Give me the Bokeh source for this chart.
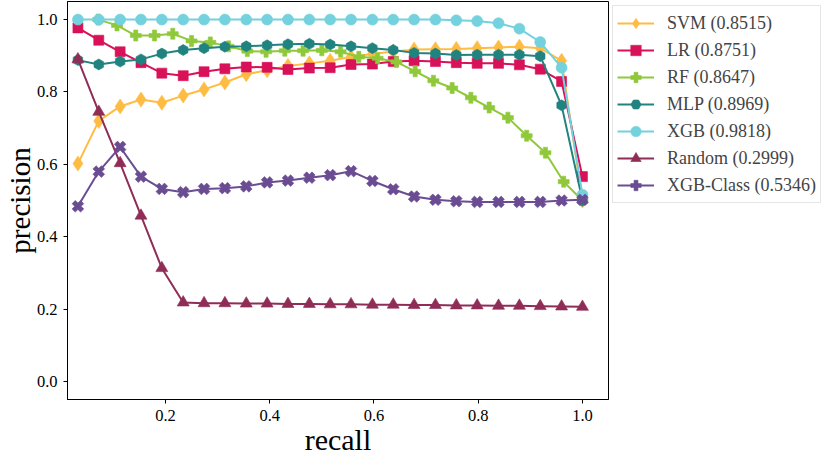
import math
from bokeh.plotting import figure
from bokeh.models import (Legend, LegendItem, FixedTicker, NumeralTickFormatter,
                          Range1d)
from bokeh.embed import file_html
from bokeh.resources import INLINE

# ---------------- data ----------------
recall = [0.032, 0.072, 0.113, 0.153, 0.193, 0.234, 0.274, 0.314, 0.355, 0.395,
          0.435, 0.476, 0.516, 0.556, 0.597, 0.637, 0.677, 0.718, 0.758, 0.798,
          0.839, 0.879, 0.919, 0.960, 1.000]
recall_rf = [0.071, 0.107, 0.143, 0.179, 0.214, 0.250, 0.286, 0.321, 0.357,
             0.393, 0.429, 0.464, 0.500, 0.536, 0.571, 0.607, 0.643, 0.679,
             0.714, 0.750, 0.786, 0.821, 0.857, 0.893, 0.929, 0.964, 1.000]

svm = [0.602, 0.720, 0.760, 0.779, 0.770, 0.790, 0.807, 0.826, 0.849, 0.860,
       0.872, 0.879, 0.886, 0.897, 0.905, 0.912, 0.917, 0.918, 0.919, 0.921,
       0.923, 0.925, 0.921, 0.886, 0.500]
lr = [0.977, 0.943, 0.911, 0.881, 0.852, 0.845, 0.856, 0.864, 0.869, 0.868,
      0.862, 0.866, 0.867, 0.876, 0.877, 0.884, 0.886, 0.884, 0.881, 0.879,
      0.879, 0.875, 0.863, 0.829, 0.566]
rf = [1.000, 0.984, 0.956, 0.956, 0.961, 0.941, 0.937, 0.926, 0.913, 0.911,
      0.914, 0.914, 0.915, 0.911, 0.897, 0.893, 0.883, 0.857, 0.831, 0.811,
      0.784, 0.757, 0.729, 0.679, 0.632, 0.552, 0.500]
mlp = [0.888, 0.876, 0.884, 0.890, 0.906, 0.916, 0.921, 0.925, 0.926, 0.929,
       0.932, 0.933, 0.931, 0.926, 0.921, 0.916, 0.908, 0.906, 0.902, 0.903,
       0.903, 0.903, 0.899, 0.763, 0.500]
xgb = [1.000, 1.000, 1.000, 1.000, 1.000, 1.000, 1.000, 1.000, 1.000, 1.000,
       1.000, 1.000, 1.000, 1.000, 1.000, 1.000, 1.000, 1.000, 0.998, 0.996,
       0.990, 0.975, 0.938, 0.867, 0.516]
rand = [0.890, 0.745, 0.603, 0.458, 0.313, 0.218, 0.216, 0.216, 0.215, 0.215,
        0.214, 0.214, 0.213, 0.213, 0.212, 0.212, 0.211, 0.211, 0.210, 0.210,
        0.209, 0.209, 0.208, 0.207, 0.206]
xgb_class = [0.484, 0.580, 0.648, 0.566, 0.532, 0.523, 0.532, 0.534, 0.539,
             0.550, 0.555, 0.563, 0.570, 0.581, 0.554, 0.531, 0.511, 0.502,
             0.498, 0.496, 0.496, 0.496, 0.496, 0.500, 0.502]

labels = ["SVM (0.8515)", "LR (0.8751)", "RF (0.8647)", "MLP (0.8969)",
          "XGB (0.9818)", "Random (0.2999)", "XGB-Class (0.5346)"]
x_ticks = [0.2, 0.4, 0.6, 0.8, 1.0]
y_ticks = [0.0, 0.2, 0.4, 0.6, 0.8, 1.0]

FONT = "'Liberation Serif', 'Times New Roman', Times, serif"

p = figure(frame_width=541, frame_height=398,
           x_range=Range1d(0.012, 1.05), y_range=Range1d(-0.05, 1.05),
           output_backend="svg", toolbar_location=None,
           min_border_top=1, min_border_left=0, min_border_right=0,
           min_border_bottom=0)

p.xgrid.visible = False
p.ygrid.visible = False
p.outline_line_color = "black"
p.outline_line_alpha = 1.0
p.outline_line_width = 1

for ax in (p.xaxis[0], p.yaxis[0]):
    ax.major_tick_in = 0
    ax.major_tick_out = 4
    ax.minor_tick_in = 0
    ax.minor_tick_out = 0
    ax.axis_line_color = "black"
    ax.major_tick_line_color = "black"
    ax.major_label_text_font = FONT
    ax.major_label_text_font_size = "16.5px"
    ax.major_label_text_color = "black"
    ax.formatter = NumeralTickFormatter(format="0.0")
    ax.axis_label_text_font = FONT
    ax.axis_label_text_font_style = "normal"
    ax.axis_label_text_color = "black"
p.xaxis.ticker = FixedTicker(ticks=x_ticks)
p.yaxis.ticker = FixedTicker(ticks=y_ticks)

p.xaxis.axis_label = "recall"
p.xaxis.axis_label_text_font_size = "30px"
p.xaxis.major_label_standoff = 6
p.xaxis.axis_label_standoff = -1

p.yaxis.axis_label = "precision"
p.yaxis.axis_label_text_font_size = "29px"
p.yaxis.major_label_standoff = 6
p.yaxis.axis_label_standoff = -2

series = [
    (recall, svm, "#FFBC42", "diamond", 15, 0.0),
    (recall, lr, "#D81159", "square", 10, 0.0),
    (recall_rf, rf, "#8FC93A", "plus", 11, 0.0),
    (recall, mlp, "#218380", "hex", 11, math.pi / 6),
    (recall, xgb, "#73D2DE", "circle", 11, 0.0),
    (recall, rand, "#8F2D56", "triangle", 12, 0.0),
    (recall, xgb_class, "#6A4C93", "plus", 12, math.pi / 4),
]

items = []
for (xs, ys, col, mk, sz, ang), lab in zip(series, labels):
    ln = p.line(xs, ys, line_color=col, line_width=2)
    sc = p.scatter(xs, ys, marker=mk, size=sz, angle=ang, fill_color=col,
                   line_color=col, line_alpha=0.6)
    items.append(LegendItem(label=lab, renderers=[ln, sc]))

legend = Legend(items=items, location="top_left",
                label_text_font=FONT, label_text_font_size="18px",
                glyph_width=37, glyph_height=26, label_height=18,
                spacing=1, padding=4, margin=4, label_standoff=13,
                border_line_color="#cccccc", border_line_width=1,
                background_fill_color="white")
p.add_layout(legend, "right")

open("out.html", "w").write(file_html(p, INLINE))
